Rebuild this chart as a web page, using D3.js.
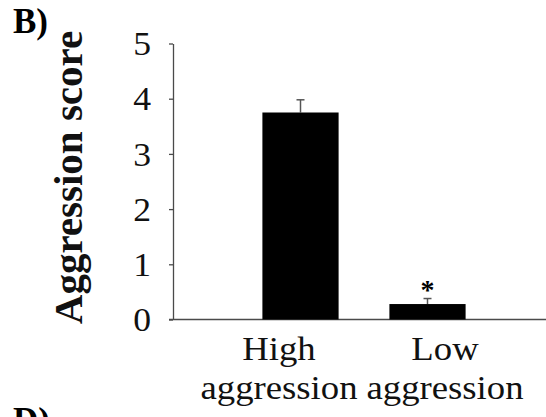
<!DOCTYPE html>
<html>
<head>
<meta charset="utf-8">
<script src="https://cdn.jsdelivr.net/npm/d3@7"></script>
<style>
  body { margin: 0; background: #fff; }
  text { font-family: "Liberation Serif", "Times New Roman", serif; }
</style>
</head>
<body>
<div id="chart"></div>
<script>

var categories = ["High aggression", "Low aggression"];
var labelLines = [["High", "aggression"], ["Low", "aggression"]];
var scores = [3.75, 0.28];
var errors = [0.23, 0.10];
var significant = [false, true];
var yTicks = [0, 1, 2, 3, 4, 5];

var width = 546, height = 417;
var stretch = 1.08; // the original figure is slightly widened

var svg = d3.select("#chart").append("svg")
    .attr("width", width)
    .attr("height", height);

var y = d3.scaleLinear().domain([0, 5]).range([319.5, 43.5]);
var x = d3.scaleBand().domain(categories).range([237, 491])
    .paddingInner(0.4).paddingOuter(0.2);
// labels are wider than the bars, they sit on their own slots
var xLabel = d3.scaleBand().domain(categories).range([196, 528]);

var axisColor = "#4a4a4a";

// y axis
var yAxis = svg.append("g")
    .attr("transform", "translate(173,0)")
    .call(d3.axisLeft(y).tickValues(yTicks).tickFormat(d3.format("d"))
        .tickSize(4).tickSizeOuter(0));
yAxis.select(".domain").attr("stroke", axisColor).attr("stroke-width", 1.3);
yAxis.selectAll(".tick line").attr("stroke", axisColor).attr("stroke-width", 1.3);
yAxis.selectAll(".tick text")
    .attr("x", null)
    .attr("transform", "translate(-22,0) scale(" + stretch + ",1)")
    .attr("font-family", "Liberation Serif")
    .attr("font-size", 33)
    .attr("fill", "#111")
    .attr("dy", "0.34em");

// x axis line
svg.append("line")
    .attr("x1", 169).attr("x2", width)
    .attr("y1", y(0)).attr("y2", y(0))
    .attr("stroke", axisColor).attr("stroke-width", 1.3);

var data = categories.map((c, i) => ({cat: c, v: scores[i], e: errors[i], sig: significant[i], lines: labelLines[i]}));

// error bars (upper only)
var eb = svg.selectAll(".err").data(data).enter().append("g").attr("class", "err");
eb.append("line")
    .attr("x1", d => x(d.cat) + x.bandwidth() / 2)
    .attr("x2", d => x(d.cat) + x.bandwidth() / 2)
    .attr("y1", d => y(d.v))
    .attr("y2", d => y(d.v + d.e))
    .attr("stroke", "#555").attr("stroke-width", 1.5);
eb.append("line")
    .attr("x1", d => x(d.cat) + x.bandwidth() / 2 - 4)
    .attr("x2", d => x(d.cat) + x.bandwidth() / 2 + 4)
    .attr("y1", d => y(d.v + d.e))
    .attr("y2", d => y(d.v + d.e))
    .attr("stroke", "#555").attr("stroke-width", 1.5);

svg.selectAll(".bar").data(data).enter().append("rect")
    .attr("class", "bar")
    .attr("x", d => x(d.cat))
    .attr("width", x.bandwidth())
    .attr("y", d => y(d.v))
    .attr("height", d => y(0) - y(d.v))
    .attr("fill", "#000");

svg.selectAll(".star").data(data.filter(d => d.sig)).enter().append("text")
    .attr("class", "star")
    .attr("x", d => x(d.cat) + x.bandwidth() / 2)
    .attr("y", d => y(d.v + d.e))
    .attr("text-anchor", "middle")
    .attr("font-weight", "bold")
    .attr("font-size", 28)
    .text("*");

// category labels
var lab = svg.selectAll(".catlabel").data(data).enter().append("text")
    .attr("class", "catlabel")
    .attr("transform", d => "translate(" + (xLabel(d.cat) + xLabel.bandwidth() / 2) + ",0) scale(" + stretch + ",1)")
    .attr("text-anchor", "middle")
    .attr("font-size", 34)
    .attr("fill", "#111");
lab.selectAll("tspan").data(d => d.lines).enter().append("tspan")
    .attr("x", 0)
    .attr("y", (d, i) => 360 + i * 39)
    .text(d => d);

// y axis title
svg.append("text")
    .attr("transform", "translate(82,177.5) rotate(-90)")
    .attr("text-anchor", "middle")
    .attr("font-weight", "bold")
    .attr("font-size", 41)
    .attr("fill", "#111")
    .text("Aggression score");

// panel letters
svg.append("text")
    .attr("x", 13).attr("y", 33)
    .attr("font-weight", "bold").attr("font-size", 35)
    .text("B)");
svg.append("text")
    .attr("x", 13).attr("y", 432)
    .attr("font-weight", "bold").attr("font-size", 35)
    .text("D)");

</script>
</body>
</html>
